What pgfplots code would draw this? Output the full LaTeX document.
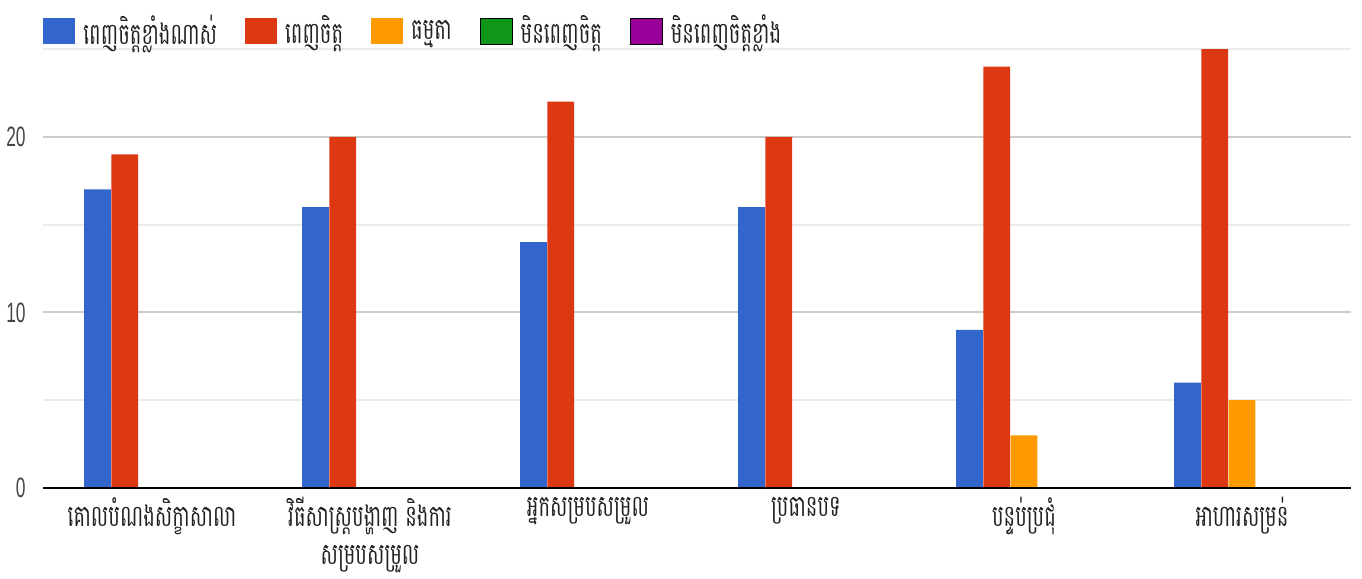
\documentclass[border=0pt]{standalone}
\usepackage{fontspec}
\usepackage{pgfplots}
\pgfplotsset{compat=1.18}

\newfontfamily\khmer[Script=Khmer, FakeStretch=0.65]{Battambang}
\newfontfamily\tickfont[FakeStretch=0.62]{Liberation Sans}

\definecolor{cblue}{HTML}{3366CC}
\definecolor{cred}{HTML}{DC3912}
\definecolor{corange}{HTML}{FF9900}
\definecolor{cgreen}{HTML}{109618}
\definecolor{cpurple}{HTML}{990099}
\definecolor{gridmaj}{HTML}{CCCCCC}
\definecolor{gridmin}{HTML}{EBEBEB}
\definecolor{baseline}{HTML}{333333}
\definecolor{ticktext}{HTML}{444444}
\definecolor{labeltext}{HTML}{222222}

\pgfplotsset{
  catbar/.style={
    ybar, bar width=0.123, bar shift=#1, draw=none,
    legend image code/.code={\fill[##1] (0pt,-6.5pt) rectangle (16pt,6.5pt);}
  },
  legbox/.style={
    legend image code/.code={\fill[#1] (0pt,-6.5pt) rectangle (16pt,6.5pt);}
  },
}

\begin{document}
\begin{tikzpicture}
\begin{axis}[
  at={(0,0)}, anchor=south west,
  scale only axis, width=654pt, height=219.5pt,
  xmin=-0.5, xmax=5.5, ymin=0, ymax=25,
  clip=false,
  axis line style={draw=none},
  major tick length=0pt, minor tick length=0pt,
  xtick={0,1,2,3,4,5},
  xticklabels={
    {គោលបំណងសិក្ខាសាលា},
    {វិធីសាស្រ្តបង្ហាញ និងការ\\សម្របសម្រួល},
    {អ្នកសម្របសម្រួល},
    {ប្រធានបទ},
    {បន្ទប់ប្រជុំ},
    {អាហារសម្រន់}
  },
  xticklabel style={font=\khmer\fontsize{15pt}{19pt}\selectfont,
    text=labeltext, align=center, anchor=north, inner sep=0pt, yshift=-4.5pt},
  ytick={0,10,20}, minor ytick={5,15,25},
  ymajorgrids, yminorgrids,
  major grid style={draw=gridmaj, line width=1pt},
  minor grid style={draw=gridmin, line width=1pt},
  /pgf/number format/assume math mode=true,
  yticklabel style={font=\tickfont\fontsize{14pt}{16pt}\selectfont,
    text=ticktext, anchor=east, inner sep=0pt, xshift=-8.5pt},
  legend columns=-1,
  legend style={draw=none, fill=none, at={(0,1)}, anchor=west, yshift=9pt,
    inner sep=0pt,
    font=\khmer\fontsize{15pt}{18pt}\selectfont, text=labeltext,
    nodes={inner sep=0pt},
    /tikz/every odd column/.append style={column sep=4pt},
    /tikz/every even column/.append style={column sep=14pt}},
]
% very satisfied
\addplot[catbar=-0.25, fill=cblue] coordinates
  {(0,17) (1,16) (2,14) (3,16) (4,9) (5,6)};
% satisfied
\addplot[catbar=-0.125, fill=cred] coordinates
  {(0,19) (1,20) (2,22) (3,20) (4,24) (5,25)};
% neutral
\addplot[catbar=0, fill=corange] coordinates
  {(4,3) (5,5)};
\addlegendimage{legbox, fill=cgreen}
\addlegendimage{legbox, fill=cpurple}
\legend{ពេញចិត្តខ្លាំងណាស់, ពេញចិត្ត, ធម្មតា, មិនពេញចិត្ត, មិនពេញចិត្តខ្លាំង}
% baseline drawn over the bars
\draw[baseline, line width=1.3pt] (axis cs:-0.5,0) -- (axis cs:5.5,0);
\end{axis}
\pgfresetboundingbox
\path[use as bounding box] (-21.5pt,-45.5pt) rectangle (659.5pt,244pt);
\end{tikzpicture}
\end{document}
